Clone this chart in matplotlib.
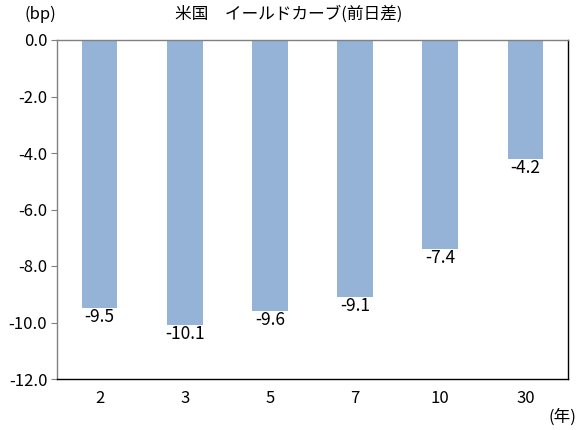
import matplotlib.pyplot as plt
from matplotlib.ticker import FuncFormatter

plt.rcParams['font.family'] = ['Noto Sans CJK JP', 'DejaVu Sans']

# data
maturities = ["2", "3", "5", "7", "10", "30"]
changes = [-9.5, -10.1, -9.6, -9.1, -7.4, -4.2]
yticks = [0, -2, -4, -6, -8, -10, -12]

bar_color = "#95B3D7"

fig = plt.figure(figsize=(5.79, 4.30), dpi=100)
ax = fig.add_axes([57 / 579, 51 / 430, 511 / 579, 339 / 430])

x = range(len(maturities))
bars = ax.bar(x, changes, width=0.42, color=bar_color, zorder=2)

for xi, v in zip(x, changes):
    ax.text(xi, v, f"{v:.1f}", ha="center", va="top", fontsize=12.5)

ax.set_xlim(-0.5, len(maturities) - 0.5)
ax.set_ylim(-12, 0)
ax.set_yticks(yticks)
ax.yaxis.set_major_formatter(FuncFormatter(lambda v, p: f"{v:.1f}"))
ax.set_xticks(list(x))
ax.set_xticklabels(maturities)
ax.tick_params(axis="x", length=0, pad=8, labelsize=12)
ax.tick_params(axis="y", length=4, color="#808080", pad=3, labelsize=12)

ax.spines["left"].set_color("#808080")
ax.spines["top"].set_color("#808080")
ax.spines["bottom"].set_color("black")
ax.spines["right"].set_color("black")
for s in ax.spines.values():
    s.set_linewidth(1.0)

fig.text(289 / 579, 1 - 14 / 430, "米国　イールドカーブ(前日差)", ha="center", va="center", fontsize=12)
fig.text(40 / 579, 1 - 14 / 430, "(bp)", ha="center", va="center", fontsize=12)
fig.text(562 / 579, 1 - 417 / 430, "(年)", ha="center", va="center", fontsize=12)

fig.savefig("out.png", dpi=100)
